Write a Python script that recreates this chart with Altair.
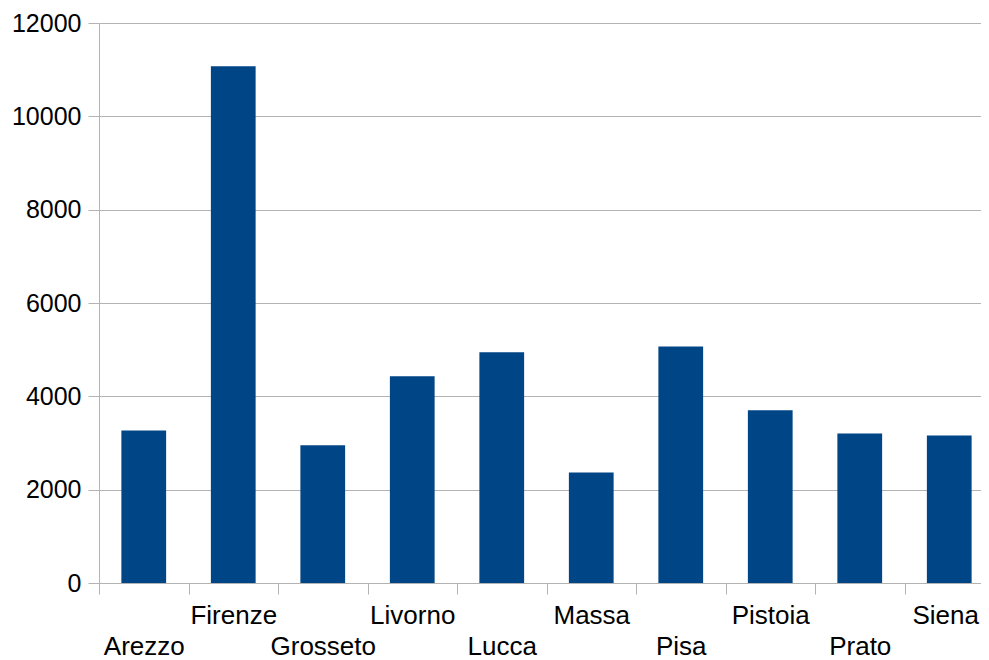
import altair as alt
import pandas as pd

categories = ["Arezzo", "Firenze", "Grosseto", "Livorno", "Lucca",
              "Massa", "Pisa", "Pistoia", "Prato", "Siena"]
values = [3270, 11075, 2950, 4430, 4945, 2370, 5070, 3700, 3205, 3160]

df = pd.DataFrame({"provincia": categories, "valore": values})

low_row = [c for i, c in enumerate(categories) if i % 2 == 0]
low_list = "[" + ",".join("'" + c + "'" for c in low_row) + "]"
label_expr = f"indexof({low_list}, datum.label) >= 0 ? [' ', datum.label] : datum.label"
last_label = categories[-1]

gray = "#b3b3b3"

chart = alt.Chart(df).mark_bar(color="#004586", width={"band": 0.5}).encode(
    x=alt.X("provincia:N", sort=categories, title=None,
            scale=alt.Scale(paddingInner=0, paddingOuter=0),
            axis=alt.Axis(labelAngle=0, tickBand="extent", tickSize=11,
                          tickColor=gray, domainColor=gray,
                          labelFont="Liberation Sans", labelFontSize=26,
                          labelColor="black", labelPadding=8,
                          labelLineHeight=31, labelExpr=label_expr,
                          labelOffset={"condition": {"test": f"datum.label == '{last_label}'",
                                                     "value": -4},
                                       "value": 0},
                          labelBaseline="top", labelOverlap=False,
                          labelBound=False, grid=False)),
    y=alt.Y("valore:Q", title=None,
            scale=alt.Scale(domain=[0, 12000], nice=False),
            axis=alt.Axis(values=list(range(0, 12001, 2000)), format="d",
                          tickSize=11, tickColor=gray, domainColor=gray,
                          gridColor=gray,
                          labelFont="Liberation Sans", labelFontSize=25,
                          labelColor="black", labelPadding=7)),
).properties(
    width=895, height=560,
    autosize=alt.AutoSizeParams(type="none"),
    padding={"left": 91, "top": 15, "right": -13, "bottom": 77},
).configure_view(stroke=None)

chart.save("out.html", embed_options={"renderer": "svg", "actions": False})
